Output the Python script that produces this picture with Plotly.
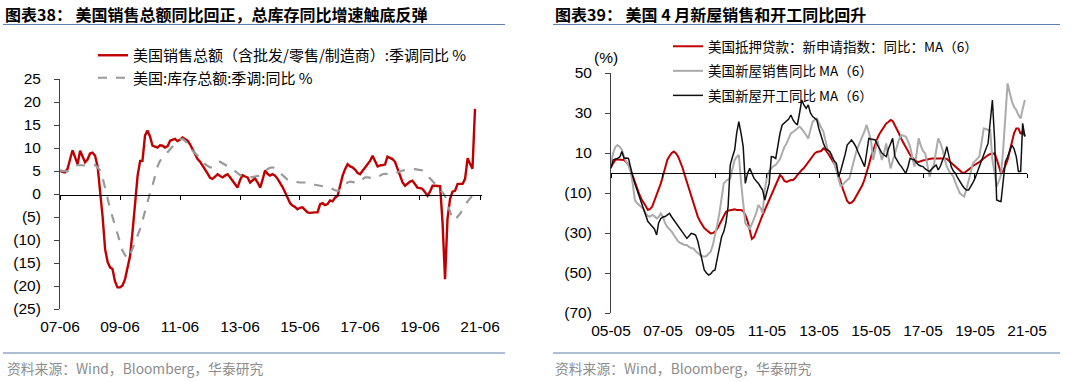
import plotly.graph_objects as go
import pandas as pd

# ---------------- data: left chart (monthly, from 2007-06) ----------------
sales_yoy = [
    5.1, 4.8, 4.7, 5.5, 7.5, 9.5, 8.0, 6.5, 9.4, 8.0, 6.9, 7.5,
    8.8, 9.0, 8.3, 6.0, 1.0, -5.0, -12.0, -14.8, -16.0, -16.3, -19.0, -20.3,
    -20.3, -19.9, -18.5, -16.0, -13.5, -8.0, -1.8, 4.0, 7.2, 7.2, 12.7, 13.8,
    12.5, 10.5, 10.3, 10.1, 10.6, 10.5, 10.1, 10.4, 11.6, 11.8, 12.0, 11.5,
    11.8, 12.3, 12.0, 11.6, 10.8, 9.8, 8.8, 7.6, 7.0, 6.2, 5.5, 4.5,
    3.5, 3.3, 3.8, 4.3, 3.9, 3.6, 4.0, 4.3, 3.6, 2.9, 2.0, 1.4,
    3.0, 4.1, 3.8, 3.6, 2.5, 3.0, 3.4, 2.5, 1.4, 3.0, 5.1, 4.4,
    4.0, 4.3, 4.0, 3.3, 2.5, 1.5, 0.4, -0.8, -2.0, -2.5, -2.8, -3.3,
    -3.0, -2.9, -3.5, -4.0, -4.1, -4.0, -4.0, -4.0, -2.2, -2.0, -2.4, -2.2,
    -1.4, -1.6, -0.8, -0.4, 1.8, 4.0, 5.4, 6.5, 6.0, 5.8, 5.3, 4.6,
    4.3, 5.0, 5.8, 6.5, 7.2, 8.3, 7.0, 6.0, 6.2, 6.3, 6.4, 8.1,
    7.9, 7.6, 7.0, 5.4, 4.0, 2.5, 1.8, 2.3, 2.7, 2.9, 2.0, 1.4,
    1.3, 1.1, 0.4, -0.4, 0.5, 1.8, 1.8, 1.8, 1.7, -6.0, -18.5, -5.4,
    -1.1, 0.5, 0.7, 2.2, 2.2, 2.2, 3.3, 7.8, 6.5, 5.5, 18.5,
]
inventory_yoy = [
    5.1, 5.0, 4.9, 4.9, 5.3, 5.8, 6.1, 6.3, 6.3, 6.2, 6.2, 6.1,
    6.2, 6.3, 6.3, 5.8, 5.1, 3.5, 1.1, -1.0, -3.3, -5.0, -7.0, -8.8,
    -10.5, -12.3, -13.3, -14.1, -13.2, -12.0, -10.5, -9.0, -7.6, -5.8, -3.8, -1.5,
    0.2, 1.8, 4.0, 6.0, 7.2, 8.0, 8.6, 9.1, 9.8, 10.4, 10.9, 11.4,
    11.9, 12.0, 11.6, 10.9, 10.0, 9.4, 8.9, 8.4, 8.0, 7.3, 6.5, 6.1,
    5.8, 5.8, 6.3, 6.8, 7.0, 6.7, 6.3, 6.0, 5.7, 5.4, 5.0, 4.5,
    4.1, 3.9, 3.7, 3.6, 3.6, 3.7, 3.9, 4.0, 4.0, 4.4, 5.0, 5.4,
    5.7, 5.8, 5.6, 5.1, 4.6, 4.0, 3.6, 3.1, 2.8, 2.7, 2.6, 2.6,
    2.5, 2.5, 2.5, 2.5, 2.3, 2.1, 2.0, 1.9, 1.8, 1.7, 1.6, 1.5,
    1.4, 1.1, 0.8, 0.7, 0.9, 1.4, 2.0, 2.5, 2.7, 2.6, 2.4, 2.4,
    2.8, 3.3, 3.6, 3.6, 3.5, 3.4, 3.4, 3.7, 4.0, 4.3, 4.4, 4.3,
    4.3, 4.3, 4.5, 4.8, 5.0, 5.1, 5.2, 5.3, 5.4, 5.4, 5.4, 5.3,
    5.2, 5.1, 4.6, 4.0, 3.6, 3.0, 2.4, 1.8, 1.0, 0.3, -0.4, -2.2,
    -4.0, -5.5, -5.6, -5.0, -4.3, -3.4, -2.4, -1.6, -0.9, -0.4,
]
left_tick_dates = ["2007-06-01", "2009-06-01", "2011-06-01", "2013-06-01",
                   "2015-06-01", "2017-06-01", "2019-06-01", "2021-06-01"]
left_tick_text = ["07-06", "09-06", "11-06", "13-06", "15-06", "17-06", "19-06", "21-06"]
left_y_vals = [25, 20, 15, 10, 5, 0, -5, -10, -15, -20, -25]
left_y_text = ["25", "20", "15", "10", "5", "0", "(5)", "(10)", "(15)", "(20)", "(25)"]

# ---------------- data: right chart (monthly, from 2005-05) ----------------
mortgage_ma6 = [
    3.2, 5.0, 6.5, 6.8, 6.8, 6.8, 6.5, 5.5, 4.0, 1.5, -1.5, -4.5,
    -7.5, -10.5, -13.0, -14.5, -16.5, -18.5, -18.0, -16.8, -14.0, -11.0, -8.0, -5.2,
    -1.5, 2.5, 6.5, 8.5, 10.0, 10.7, 9.8, 8.2, 5.5, 2.5, -1.0, -4.5,
    -8.0, -11.8, -15.0, -18.5, -21.8, -24.0, -26.0, -27.5, -28.5, -29.5, -30.2, -30.0,
    -29.3, -28.0, -26.0, -24.0, -21.5, -19.5, -18.8, -18.5, -18.5, -18.2, -18.5, -18.5,
    -18.5, -19.0, -21.0, -24.0, -28.5, -33.0, -32.0, -29.5, -27.0, -23.5, -21.0, -18.5,
    -15.5, -13.0, -10.5, -8.0, -6.0, -3.5, -1.0, -2.0, -4.0, -4.5, -4.0, -3.5,
    -3.5, -2.5, -1.0, 0.5, 1.5, 2.5, 4.0, 5.5, 7.0, 8.5, 9.8, 10.5,
    10.7, 11.0, 12.3, 11.5, 10.0, 8.5, 6.5, 4.8, 2.0, -1.0, -4.3, -8.0,
    -11.5, -14.0, -15.2, -14.8, -13.8, -12.0, -10.0, -8.5, -6.0, -3.0, -0.2, 4.0,
    8.0, 11.5, 14.5, 17.5, 19.8, 21.5, 23.5, 24.8, 25.5, 26.5, 26.0, 24.0,
    22.0, 19.5, 17.0, 14.8, 12.5, 10.5, 9.0, 7.8, 6.5, 5.7, 5.5, 6.0,
    6.3, 6.5, 6.8, 7.0, 7.2, 7.3, 7.3, 7.2, 7.5, 7.3, 7.3, 7.0,
    6.0, 5.0, 4.0, 3.0, 2.0, 1.0, 0.2, 0.0, 0.8, 1.5, 2.5, 3.5,
    4.0, 4.8, 5.5, 6.5, 7.5, 8.2, 9.0, 9.5, 9.8, 9.8, 7.0, 3.0,
    -0.2, 1.0, 4.0, 6.5, 11.0, 16.0, 20.0, 22.3, 22.3, 19.5, 21.0, 18.5,
]
new_home_sales_ma6 = [
    4.8, 10.0, 13.0, 14.0, 13.0, 11.5, 8.0, 5.5, 4.0, 0.5, -5.0, -13.5,
    -15.0, -16.0, -16.8, -18.0, -20.2, -21.5, -21.8, -21.0, -21.5, -22.7, -22.0, -20.2,
    -22.0, -25.2, -27.0, -28.0, -29.3, -31.0, -33.0, -34.3, -35.0, -35.5, -36.0, -36.0,
    -37.0, -37.5, -37.7, -39.0, -40.2, -41.0, -41.5, -41.8, -41.5, -40.5, -39.3, -36.0,
    -31.8, -26.0, -20.2, -12.0, -5.2, -4.0, -3.5, -2.7, 2.0, 6.5, 8.0, 9.0,
    -4.3, -15.0, -25.2, -26.5, -27.7, -25.5, -23.0, -20.0, -16.0, -17.5, -20.2, -8.5,
    -2.0, 1.0, 2.3, 3.5, 4.0, 5.5, 7.0, 10.0, 13.0, 14.8, 17.5, 19.8,
    20.5, 21.5, 22.0, 23.2, 22.0, 20.7, 19.0, 17.3, 21.0, 25.7, 26.5, 27.3,
    25.0, 23.0, 20.7, 16.0, 11.5, 10.0, 9.0, 5.0, 1.5, -3.0, -6.8, -5.5,
    -4.3, -3.5, -2.7, 2.0, 6.5, 10.0, 13.2, 15.5, 18.2, 21.0, 24.0, 20.0,
    16.5, 6.5, 12.0, 16.5, 11.0, 6.5, 10.0, 14.8, 8.0, 2.3, 6.0, 9.8,
    14.0, 17.0, 19.0, 18.5, 18.2, 16.0, 13.2, 8.0, 3.2, 10.0, 17.3, 13.5,
    11.0, 9.8, 4.0, -1.8, 2.0, 4.0, 11.0, 17.3, 15.0, 11.5, 7.0, 3.2,
    1.0, -0.5, -1.8, -5.0, -8.0, -10.2, -11.0, -11.8, -8.0, -4.3, 0.0, 4.8,
    6.0, 7.0, 8.2, 15.0, 22.3, 22.0, 21.5, 21.5, 6.5, 0.0, -6.8, -4.0,
    -1.0, 12.0, 26.5, 44.8, 40.0, 35.7, 33.0, 31.5, 29.0, 27.3, 32.0, 36.5,
]
housing_starts_ma6 = [
    2.3, 6.5, 7.0, 7.3, 8.0, 10.7, 7.3, 7.5, 7.3, 2.3, -1.5, -5.2,
    -8.5, -11.8, -15.0, -18.5, -21.5, -24.3, -25.5, -26.8, -28.0, -31.0, -25.0, -22.7,
    -22.0, -21.8, -21.0, -20.2, -22.0, -23.5, -25.0, -26.8, -28.0, -29.3, -31.0, -32.7,
    -31.5, -30.2, -30.5, -31.0, -34.0, -38.5, -44.0, -48.5, -50.0, -51.0, -50.5, -49.0,
    -48.5, -43.0, -36.8, -32.0, -29.3, -25.0, -16.8, 4.0, 8.0, 11.5, 19.8, 25.7,
    20.0, 13.2, -5.2, -0.2, 2.3, 0.0, -2.7, -4.0, -5.2, -7.0, -8.5, -13.5,
    -9.0, -5.2, 8.2, 8.0, 7.3, 14.8, 20.0, 24.0, 25.0, 25.7, 27.0, 29.0,
    26.5, 25.0, 24.0, 30.0, 36.5, 34.0, 32.3, 34.0, 30.0, 28.2, 27.5, 26.5,
    22.0, 18.2, 15.0, 12.3, 11.5, 10.7, 8.0, 6.0, 4.8, -1.8, 1.0, 4.8,
    9.0, 14.0, 15.5, 16.5, 15.0, 13.2, 10.5, 8.2, 6.0, 3.2, 10.0, 17.3,
    17.0, 16.8, 16.5, 14.0, 11.5, 10.0, 9.0, 8.2, 12.0, 15.0, 17.3, 8.2,
    6.0, 4.5, 3.2, 1.5, -0.2, 3.0, 7.3, 6.8, 6.5, 5.0, 4.0, 3.5,
    3.2, 2.0, 1.2, 0.7, 2.0, 3.0, 4.0, 1.5, 3.5, 6.5, 9.0, 13.2,
    8.0, 3.2, 1.0, -0.2, -2.5, -4.5, -6.0, -7.5, -8.5, -8.5, -7.0, -5.0,
    -2.7, 0.5, 3.5, 6.5, 9.0, 12.0, 14.8, 25.0, 36.5, 16.5, -13.5, -14.0,
    -14.3, -4.0, 5.7, 8.0, 11.0, 14.0, 12.0, 8.2, 0.7, 0.7, 24.8, 18.2,
]
right_tick_dates = ["2005-05-01", "2007-05-01", "2009-05-01", "2011-05-01", "2013-05-01",
                    "2015-05-01", "2017-05-01", "2019-05-01", "2021-05-01"]
right_tick_text = ["05-05", "07-05", "09-05", "11-05", "13-05", "15-05", "17-05", "19-05", "21-05"]
right_y_vals = [50, 30, 10, -10, -30, -50, -70]
right_y_text = ["50", "30", "10", "(10)", "(30)", "(50)", "(70)"]

left_dates_sales = pd.date_range("2007-06-01", periods=len(sales_yoy), freq="MS")
left_dates_inv = pd.date_range("2007-06-01", periods=len(inventory_yoy), freq="MS")
right_dates = pd.date_range("2005-05-01", periods=len(mortgage_ma6), freq="MS")

W, H = 1080, 382
def px(x):
    return x / W
def py(y):
    return 1 - y / H

NUM_FONT = "Liberation Sans, Arial, Noto Sans CJK SC"
CJK_FONT = "Noto Sans CJK SC, Liberation Sans"
RED = "#c00000"

fig = go.Figure()
fig.add_trace(go.Scatter(x=left_dates_sales, y=sales_yoy, mode="lines",
                         name="美国销售总额（含批发/零售/制造商）:季调同比 %",
                         line=dict(color=RED, width=2.4), xaxis="x", yaxis="y",
                         legend="legend", legendgroup="a"))
fig.add_trace(go.Scatter(x=left_dates_inv, y=inventory_yoy, mode="lines",
                         name="美国:库存总额:季调:同比 %",
                         line=dict(color="#999999", width=2.2, dash="dash"), xaxis="x", yaxis="y",
                         legend="legend", legendgroup="b"))
fig.add_trace(go.Scatter(x=right_dates, y=mortgage_ma6, mode="lines",
                         name="美国抵押贷款：新申请指数：同比：MA（6）",
                         line=dict(color=RED, width=2), xaxis="x2", yaxis="y2",
                         legend="legend2", legendgroup="c"))
fig.add_trace(go.Scatter(x=right_dates, y=new_home_sales_ma6, mode="lines",
                         name="美国新屋销售同比 MA（6）",
                         line=dict(color="#ababab", width=2), xaxis="x2", yaxis="y2",
                         legend="legend2", legendgroup="d"))
fig.add_trace(go.Scatter(x=right_dates, y=housing_starts_ma6, mode="lines",
                         name="美国新屋开工同比 MA（6）",
                         line=dict(color="#111111", width=1.5), xaxis="x2", yaxis="y2",
                         legend="legend2", legendgroup="e"))
# empty carriers so the zero-line axes (x3, x4) are rendered
fig.add_trace(go.Scatter(x=left_tick_dates, y=[None] * len(left_tick_dates), mode="lines",
                         xaxis="x3", yaxis="y", showlegend=False, hoverinfo="skip"))
fig.add_trace(go.Scatter(x=right_tick_dates, y=[None] * len(right_tick_dates), mode="lines",
                         xaxis="x4", yaxis="y2", showlegend=False, hoverinfo="skip"))

left_range = ["2007-06-01", "2021-06-25"]
right_range = ["2005-05-01", "2021-05-01"]
tickfont = dict(family=NUM_FONT, size=15.5, color="#000000")

fig.update_layout(
    width=W, height=H, margin=dict(l=0, r=0, t=0, b=0, autoexpand=False),
    paper_bgcolor="white", plot_bgcolor="white",
    showlegend=True,
    xaxis=dict(domain=[px(60), px(482)], range=left_range, anchor="y",
               tickmode="array", tickvals=left_tick_dates, ticktext=left_tick_text,
               showline=False, ticks="", showgrid=False, zeroline=False,
               tickfont=tickfont, ticklabelstandoff=6, automargin=False),
    xaxis3=dict(overlaying="x", range=left_range, anchor="free", position=py(194.5),
                tickmode="array", tickvals=left_tick_dates, showticklabels=False,
                showline=True, linecolor="#000000", linewidth=1, automargin=False,
                ticks="outside", ticklen=4, tickcolor="#000000", showgrid=False, zeroline=False),
    yaxis=dict(domain=[py(309), py(79)], range=[-25, 25], anchor="x",
               tickmode="array", tickvals=left_y_vals, ticktext=left_y_text,
               showline=True, linecolor="#404040", linewidth=1, automargin=False,
               ticks="outside", ticklen=5, tickcolor="#404040",
               showgrid=False, zeroline=False, tickfont=tickfont, ticklabelstandoff=10),
    xaxis2=dict(domain=[px(611), px(1027)], range=right_range, anchor="y2",
                tickmode="array", tickvals=right_tick_dates, ticktext=right_tick_text,
                showline=False, ticks="", showgrid=False, zeroline=False,
                tickfont=tickfont, ticklabelstandoff=6, automargin=False),
    xaxis4=dict(overlaying="x2", range=right_range, anchor="free", position=py(173),
                tickmode="array", tickvals=right_tick_dates, showticklabels=False,
                showline=True, linecolor="#000000", linewidth=1, automargin=False,
                ticks="outside", ticklen=4, tickcolor="#000000", showgrid=False, zeroline=False),
    yaxis2=dict(domain=[py(313), py(73)], range=[-70, 50], anchor="x2",
                tickmode="array", tickvals=right_y_vals, ticktext=right_y_text,
                showline=True, linecolor="#404040", linewidth=1, automargin=False,
                ticks="outside", ticklen=5, tickcolor="#404040",
                showgrid=False, zeroline=False, tickfont=tickfont, ticklabelstandoff=10),
    legend=dict(x=px(93), y=py(39), xanchor="left", yanchor="top",
                bgcolor="rgba(0,0,0,0)", tracegroupgap=0,
                font=dict(family=CJK_FONT, size=15, color="#000000")),
    legend2=dict(x=px(668), y=py(31), xanchor="left", yanchor="top",
                 bgcolor="rgba(0,0,0,0)", tracegroupgap=4,
                 font=dict(family=CJK_FONT, size=13.5, color="#000000")),
)

# header / footer rules
rule = dict(color="#5b7fae", width=1.2)
shapes = []
for x0, x1 in [(3, 505), (553, 1060)]:
    shapes.append(dict(type="line", xref="paper", yref="paper", x0=px(x0), x1=px(x1),
                       y0=py(24.5), y1=py(24.5), line=rule))
    shapes.append(dict(type="line", xref="paper", yref="paper", x0=px(x0), x1=px(x1),
                       y0=py(353), y1=py(353), line=rule))
fig.update_layout(shapes=shapes)

ann = []
ann.append(dict(text="<b>图表38： 美国销售总额同比回正，总库存同比增速触底反弹</b>",
                x=px(3), y=py(14), xref="paper", yref="paper", xanchor="left", yanchor="middle",
                showarrow=False, font=dict(family=CJK_FONT, size=16, color="#000000")))
ann.append(dict(text="<b>图表39： 美国 4 月新屋销售和开工同比回升</b>",
                x=px(553), y=py(14), xref="paper", yref="paper", xanchor="left", yanchor="middle",
                showarrow=False, font=dict(family=CJK_FONT, size=16, color="#000000")))
for x0 in [5, 553]:
    ann.append(dict(text="资料来源：Wind，Bloomberg，华泰研究",
                    x=px(x0), y=py(368), xref="paper", yref="paper", xanchor="left", yanchor="middle",
                    showarrow=False, font=dict(family=CJK_FONT, size=13.8, color="#8c8c8c")))
ann.append(dict(text="(%)", x=px(606), y=py(57), xref="paper", yref="paper",
                xanchor="center", yanchor="middle", showarrow=False,
                font=dict(family=NUM_FONT, size=15.5, color="#000000")))
fig.update_layout(annotations=ann)

fig.write_html("out.html", config={"displayModeBar": False},
               post_script="document.body.style.margin='0';document.body.style.overflow='hidden';")
